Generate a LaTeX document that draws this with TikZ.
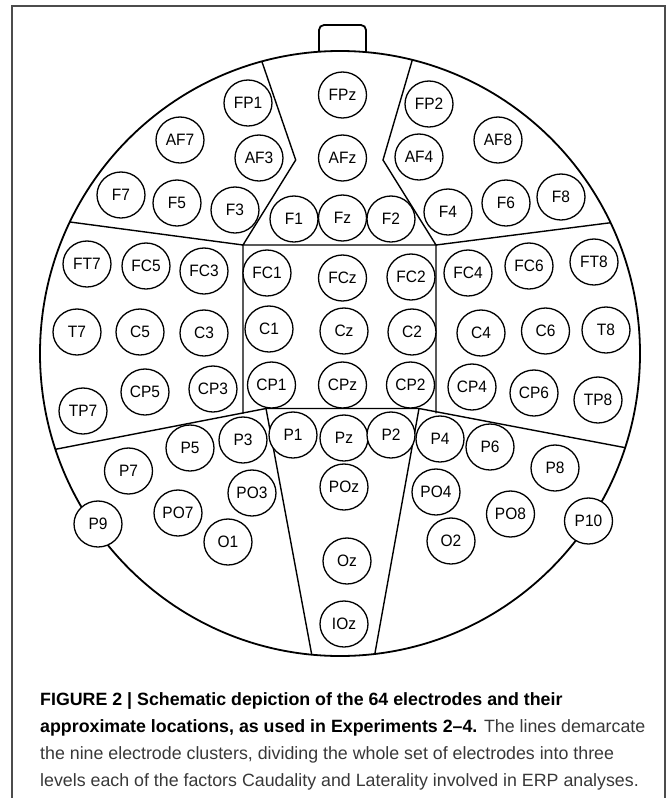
\documentclass[tikz,border=0pt]{standalone}
\usepackage{fontspec}
\setmainfont{Liberation Sans}
\usetikzlibrary{shapes.geometric}
\definecolor{framegray}{gray}{0.3}
\definecolor{captiongray}{gray}{0.22}
\newcommand{\elabel}[1]{\scalebox{0.94}[1]{#1}}
\begin{document}
\begin{tikzpicture}[x=1pt,y=-1pt,
  electrode/.style={ellipse, draw, line width=1.3pt, fill=white,
    minimum width=48pt, minimum height=46pt, inner sep=0pt,
    font=\fontsize{16.5}{18}\selectfont},
  divider/.style={line width=1.4pt, line join=miter},
  outline/.style={line width=1.8pt},
  framebox/.style={line width=1.6pt, draw=framegray},
  capline/.style={anchor=base west, inner sep=0pt,
    font=\fontsize{17.8}{20}\selectfont}]
\useasboundingbox (0,0) rectangle (667,798);

% figure frame, open at the bottom
\coordinate (frameBL) at (12,798);
\coordinate (frameTL) at (12,6);
\coordinate (frameTR) at (665,6);
\coordinate (frameBR) at (665,798);
\draw[framebox] (frameBL) -- (frameTL) -- (frameTR) -- (frameBR);

% nose and head
\draw[outline, rounded corners=5pt, fill=white] (319,25) rectangle (366,58);
\fill[white] (340,353.5) ellipse [x radius=300pt, y radius=302.5pt];

% cluster boundaries
\coordinate (TL) at (243,245);
\coordinate (TR) at (436,245);
\coordinate (BL) at (266,408.5);
\coordinate (BR) at (419,408.5);
\coordinate (VLm) at (295.7,160);
\coordinate (VRm) at (383,160);
\coordinate (VLt) at (254.9,41.2);
\coordinate (VRt) at (417.8,41.2);
\coordinate (HLo) at (50.5,219.4);
\coordinate (HRo) at (628,220.5);
\coordinate (LLo) at (34.2,453.4);
\coordinate (LRo) at (643.8,451.2);
\coordinate (TLb) at (316.6,680.8);
\coordinate (TRb) at (370,680.8);
\coordinate (SLb) at (243,413.5);
\coordinate (SRb) at (436,413.4);
\begin{scope}
  \clip (340,353.5) ellipse [x radius=300pt, y radius=302.5pt];
  \draw[divider] (VLt) -- (VLm) -- (TL) -- (TR) -- (VRm) -- (VRt);
  \draw[divider] (HLo) -- (TL) -- (SLb);
  \draw[divider] (HRo) -- (TR) -- (SRb);
  \draw[divider] (LLo) -- (BL) -- (BR) -- (LRo);
  \draw[divider] (TLb) -- (BL);
  \draw[divider] (TRb) -- (BR);
\end{scope}
\draw[outline] (340,353.5) ellipse [x radius=300pt, y radius=302.5pt];

% electrodes
\foreach \name/\px/\py in {
  FPz/342.5/95, FP1/248/103, FP2/429/104,
  AF7/180/140, AF3/259/158, AFz/342.5/158, AF4/419/157, AF8/498/140,
  F7/121/195, F5/177/203, F3/235/210, F1/294/219, Fz/342.5/218,
  F2/391/219, F4/448/212, F6/506/203, F8/561/197,
  FT7/87/264, FC5/146/266, FC3/204/271, FC1/267/273, FCz/342.5/278,
  FC2/411/277, FC4/468/273, FC6/529/266, FT8/594/262,
  T7/77/332, C5/140/332, C3/204/333, C1/269/329, Cz/344/331,
  C2/412/332, C4/481/333, C6/545.5/331, T8/606/330,
  TP7/83/411, CP5/145/392, CP3/213/389, CP1/271.5/385, CPz/342.5/385,
  CP2/410.5/385, CP4/472/387, CP6/534/393, TP8/598/400,
  P1/293/435, Pz/344/438, P2/391/435, P3/243/440, P4/440/439,
  P5/190/448, P6/490/447, P7/128.5/471, P8/555/468,
  PO3/252/493, POz/344/487, PO4/436/492, PO7/178/513, PO8/510.5/514,
  P9/98/524, P10/588.5/521, O1/228/542, O2/451/541,
  Oz/347/561, IOz/344/624}
  \node[electrode] (\name) at (\px,\py) {\elabel{\name}};

% caption
\node[capline] (cap1) at (40,705)
  {\bfseries FIGURE 2 | Schematic depiction of the 64 electrodes and their};
\node[capline] (cap2) at (40,732)
  {{\bfseries approximate locations, as used in Experiments 2–4.} {\color{captiongray}The lines demarcate}};
\node[capline, text=captiongray] (cap3) at (40,759)
  {the nine electrode clusters, dividing the whole set of electrodes into three};
\node[capline, text=captiongray] (cap4) at (40,786)
  {levels each of the factors Caudality and Laterality involved in ERP analyses.};
\end{tikzpicture}
\end{document}
